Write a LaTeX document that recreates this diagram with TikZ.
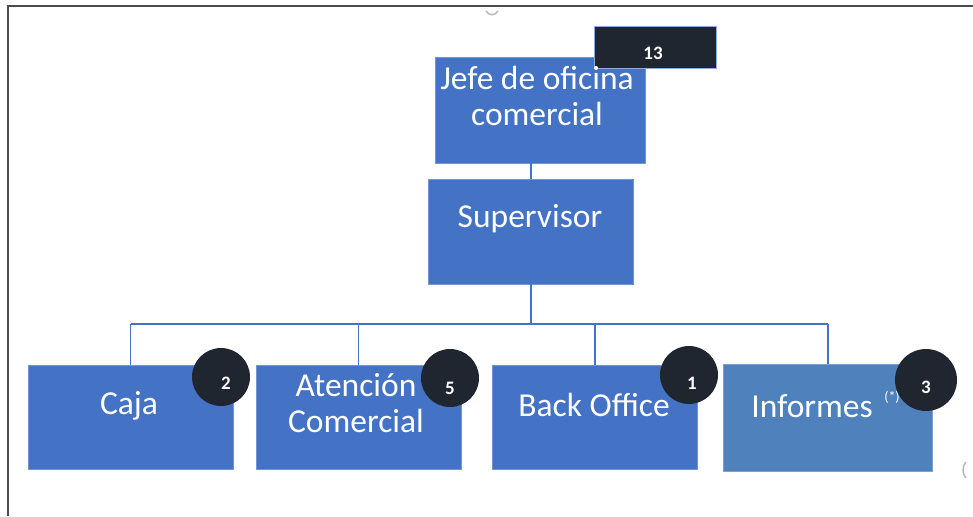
\documentclass[tikz,border=0pt]{standalone}
\usepackage{fontspec}
\setmainfont{Carlito}
\usetikzlibrary{shapes}
\definecolor{orgblue}{HTML}{4472C4}
\definecolor{orglight}{HTML}{4F81BD}
\definecolor{badgeink}{HTML}{1F2630}
\tikzstyle{ubox}=[rectangle,fill=orgblue,draw=orgblue!75!white,line width=0.8pt,inner sep=0pt]
\tikzstyle{utext}=[text=white,font=\fontsize{33.5}{36}\selectfont,align=center,inner sep=0pt]
\tikzstyle{ubadge}=[circle,fill=badgeink,minimum size=58pt,inner sep=0pt]
\tikzstyle{unum}=[text=white,inner sep=0pt,font=\fontsize{19}{19}\selectfont\bfseries]
\tikzstyle{ulink}=[draw=orgblue,line width=1.6pt]

\begin{document}
\begin{tikzpicture}[x=1pt,y=-1pt]
\useasboundingbox (0,0) rectangle (973,516);
\draw[black!70,line width=2pt] (7.5,516) -- (7.5,6.5) -- (973,6.5);
\draw[gray!55,line width=1.5pt] (486,11) .. controls (489,16) and (495,16) .. (498,11);
\draw[gray!55,line width=1.5pt] (966,462) .. controls (962,466) and (962,474) .. (966,478);
% boxes
\node[ubox,minimum width=210pt,minimum height=106pt] (jefe) at (540,110) {};
\node[rectangle,fill=badgeink,draw=orgblue!60,line width=0.6pt,minimum width=122pt,minimum height=42pt] (total) at (655.5,47) {};
\node[ubox,minimum width=205pt,minimum height=105pt] (sup) at (531,231.5) {};
\node[ubox,minimum width=205pt,minimum height=104pt] (caja) at (130.5,417.5) {};
\node[ubox,minimum width=205pt,minimum height=104pt] (aten) at (358.5,417.5) {};
\node[ubox,minimum width=205pt,minimum height=104pt] (back) at (595,417.5) {};
\node[ubox,fill=orglight,draw=orglight!75!white,minimum width=209pt,minimum height=107pt] (inf) at (828,418) {};
% texts
\node[utext] (jefet) at (537,96) {Jefe de oficina\\comercial};
\node[unum] (totalt) at (653,53) {13};
\node[utext] (supt) at (530,219) {Supervisor};
\node[utext] (cajat) at (129,406) {Caja};
\node[utext] (atent) at (356,403) {Atención\\Comercial};
\node[utext] (backt) at (594,405) {Back Office};
\node[utext] (inft) at (812,406) {Informes};
\node[text=white,inner sep=0pt,font=\fontsize{14}{14}\selectfont] (infs) at (892,397) {(*)};
% links
\coordinate (bus) at (531,324);
\draw[ulink] (sup.north) -- (sup.north |- jefe.south);
\draw[ulink] (sup.south) -- (bus);
\draw[ulink] (caja.north |- bus) -- (inf.north |- bus);
\foreach \n in {caja,aten,back,inf}
  \draw[ulink] (\n.north |- bus) -- (\n.north);
% badges
\node[ubadge] (bcaja) at (221,377) {};
\node[ubadge] (baten) at (450,378) {};
\node[ubadge] (bback) at (689,375) {};
\node[ubadge,minimum size=62pt] (binf) at (926,380) {};
\node[unum] at (226,383) {2};
\node[unum] at (450,388) {5};
\node[unum] at (692,383) {1};
\node[unum] at (926,387) {3};
\end{tikzpicture}
\end{document}
